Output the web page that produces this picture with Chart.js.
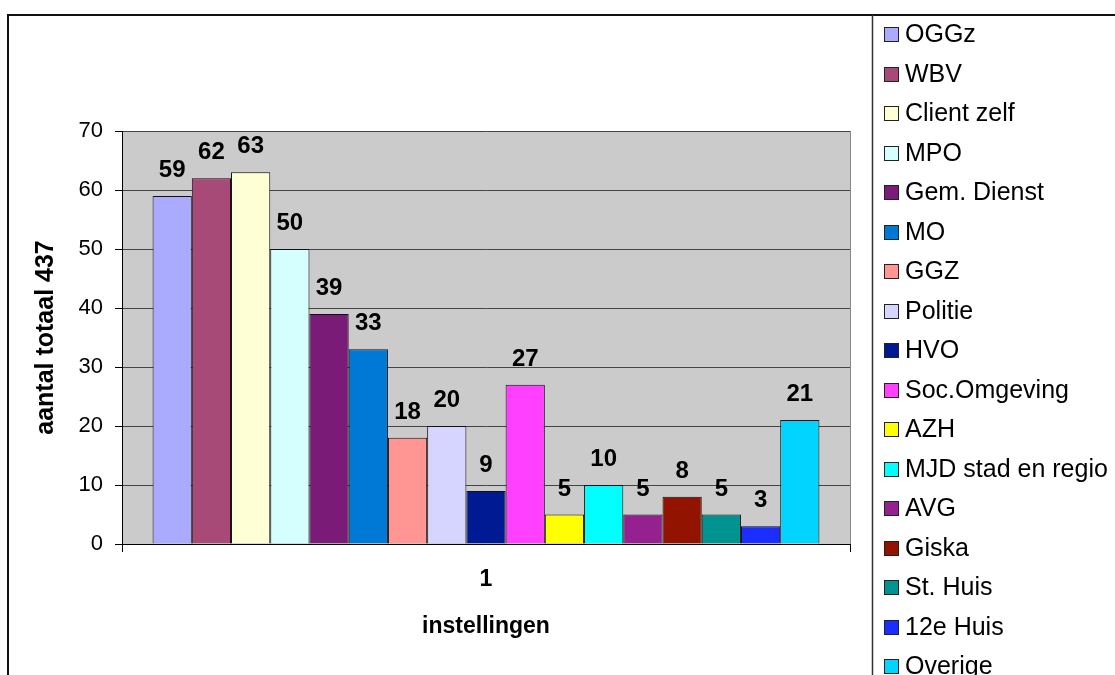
<!DOCTYPE html>
<html>
<head>
<meta charset="utf-8">
<script src="https://cdn.jsdelivr.net/npm/chart.js@4"></script>
<style>
  body { margin: 0; background: #fff; }
  #wrap { width: 1115px; height: 675px; }
</style>
</head>
<body>
<div id="wrap"><canvas id="instChart" width="1115" height="675"></canvas></div>
<script>
// instellingen + aantallen
var categories = ['1'];
var instellingen = ['OGGz', 'WBV', 'Client zelf', 'MPO', 'Gem. Dienst', 'MO', 'GGZ', 'Politie', 'HVO',
    'Soc.Omgeving', 'AZH', 'MJD stad en regio', 'AVG', 'Giska', 'St. Huis', '12e Huis', 'Overige'];
var aantallen = [59, 62, 63, 50, 39, 33, 18, 20, 9, 27, 5, 10, 5, 8, 5, 3, 21];
var kleuren = ['#AAAAFF', '#A84A78', '#FFFFD5', '#D5FFFF', '#7B1B78', '#0078D6', '#FF9694', '#D5D5FF',
    '#001A94', '#FF40FF', '#FFFF00', '#00FFFF', '#94218F', '#921400', '#00938F', '#1A2EFF', '#00D4FF'];
var yTicks = [0, 10, 20, 30, 40, 50, 60, 70];

var FONT = 'Arial, "Liberation Sans", sans-serif';

var datasets = instellingen.map(function (naam, i) {
    return {
        label: naam,
        data: [aantallen[i]],
        backgroundColor: kleuren[i],
        borderColor: '#111',
        borderWidth: 1
    };
});

// grijze achtergrond van het plotgebied
var plotBg = {
    id: 'plotBg',
    beforeDraw: function (chart) {
        var a = chart.chartArea, ctx = chart.ctx;
        ctx.save();
        ctx.fillStyle = '#CBCBCB';
        ctx.fillRect(a.left, a.top, a.right - a.left, a.bottom - a.top);
        ctx.strokeStyle = '#888';
        ctx.lineWidth = 1;
        ctx.beginPath();
        ctx.moveTo(a.right + 0.5, a.top);
        ctx.lineTo(a.right + 0.5, a.bottom);
        ctx.stroke();
        ctx.restore();
    }
};

// waarden boven de staven
var valueLabels = {
    id: 'valueLabels',
    afterDatasetsDraw: function (chart) {
        var ctx = chart.ctx;
        ctx.save();
        ctx.font = 'bold 24px ' + FONT;
        ctx.fillStyle = '#000';
        ctx.textAlign = 'center';
        ctx.textBaseline = 'alphabetic';
        chart.data.datasets.forEach(function (ds, i) {
            chart.getDatasetMeta(i).data.forEach(function (bar, j) {
                ctx.fillText(String(ds.data[j]), bar.x, bar.y - 19);
            });
        });
        ctx.restore();
    }
};

// kader + legenda rechts
var frameLegend = {
    id: 'frameLegend',
    afterDraw: function (chart) {
        var ctx = chart.ctx;
        ctx.save();
        ctx.strokeStyle = '#111';
        ctx.lineWidth = 2;
        ctx.beginPath();
        ctx.moveTo(8, 680);
        ctx.lineTo(8, 15);
        ctx.lineTo(1120, 15);
        ctx.stroke();
        ctx.lineWidth = 1.5;
        ctx.strokeStyle = '#333';
        ctx.beginPath();
        ctx.moveTo(872.5, 15);
        ctx.lineTo(872.5, 680);
        ctx.stroke();

        ctx.font = '25px ' + FONT;
        ctx.textBaseline = 'alphabetic';
        ctx.textAlign = 'left';
        chart.data.datasets.forEach(function (ds, i) {
            var y = 33 + i * 39.5;
            var top = Math.round(y - 6);
            ctx.fillStyle = ds.backgroundColor;
            ctx.fillRect(884, top, 15, 15);
            ctx.strokeStyle = '#222';
            ctx.lineWidth = 1;
            ctx.strokeRect(884.5, top + 0.5, 14, 14);
            ctx.fillStyle = '#000';
            ctx.fillText(ds.label, 905, y + 9);
        });
        ctx.restore();
    }
};

new Chart(document.getElementById('instChart'), {
    type: 'bar',
    data: {
        labels: categories,
        datasets: datasets
    },
    plugins: [plotBg, valueLabels, frameLegend],
    options: {
        responsive: false,
        animation: false,
        layout: {
            padding: { left: 0, top: 131, right: 265, bottom: 0 }
        },
        datasets: {
            bar: { barPercentage: 1, categoryPercentage: 0.916 }
        },
        plugins: {
            legend: { display: false },
            tooltip: { enabled: false }
        },
        scales: {
            x: {
                afterFit: function (scale) { scale.height = 131; },
                grid: {
                    offset: true,
                    drawOnChartArea: false,
                    tickLength: 8,
                    tickColor: '#000'
                },
                border: { color: '#000', width: 1 },
                ticks: {
                    padding: 14,
                    color: '#000',
                    font: { family: FONT, size: 23, weight: 'bold' }
                },
                title: {
                    display: true,
                    text: 'instellingen',
                    color: '#000',
                    font: { family: FONT, size: 23, weight: 'bold' },
                    padding: { top: 0, bottom: 35 }
                }
            },
            y: {
                min: 0,
                max: 70,
                afterFit: function (scale) { scale.width = 122; },
                afterBuildTicks: function (scale) {
                    scale.ticks = yTicks.map(function (v) { return { value: v }; });
                },
                grid: {
                    color: '#444',
                    tickLength: 7,
                    tickColor: '#000'
                },
                border: { color: '#000', width: 1 },
                ticks: {
                    padding: 12,
                    color: '#000',
                    font: { family: FONT, size: 22 }
                },
                title: {
                    display: true,
                    text: 'aantal totaal 437',
                    color: '#000',
                    font: { family: FONT, size: 25, weight: 'bold' },
                    padding: { top: 31, bottom: 0 }
                }
            }
        }
    }
});
</script>
</body>
</html>
